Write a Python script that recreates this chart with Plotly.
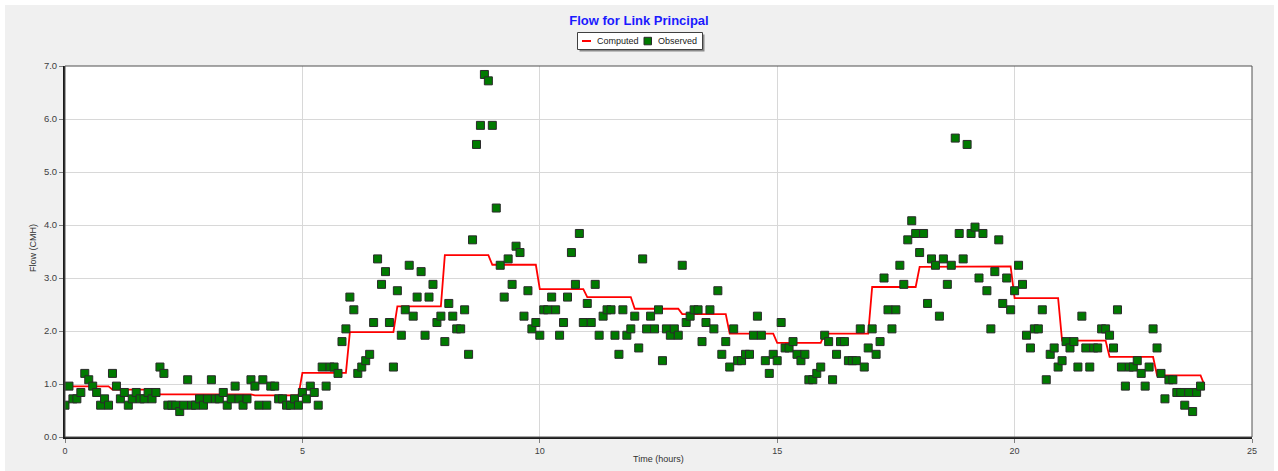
import plotly.graph_objects as go

# ---------------- data ----------------
# Observed flow, one reading every 5 minutes from 0:00 to 23:55
obs_minutes_step = 5
observed = [
    0.6, 0.96, 0.72, 0.72, 0.84, 1.2, 1.08, 0.96, 0.84, 0.6,
    0.72, 0.6, 1.2, 0.96, 0.72, 0.84, 0.6, 0.72, 0.84, 0.72,
    0.72, 0.84, 0.72, 0.84, 1.32, 1.2, 0.6, 0.6, 0.6, 0.48,
    0.6, 1.08, 0.6, 0.6, 0.72, 0.6, 0.72, 1.08, 0.72, 0.72,
    0.84, 0.6, 0.72, 0.96, 0.72, 0.6, 0.72, 1.08, 0.96, 0.6,
    1.08, 0.6, 0.96, 0.96, 0.72, 0.72, 0.6, 0.6, 0.72, 0.6,
    0.84, 0.72, 0.96, 0.84, 0.6, 1.32, 0.96, 1.32, 1.32, 1.2,
    1.8, 2.04, 2.64, 2.4, 1.2, 1.32, 1.44, 1.56, 2.16, 3.36,
    2.88, 3.12, 2.16, 1.32, 2.76, 1.92, 2.4, 3.24, 2.28, 2.64,
    3.12, 1.92, 2.64, 2.88, 2.16, 2.28, 1.8, 2.52, 2.28, 2.04,
    2.04, 2.4, 1.56, 3.72, 5.52, 5.88, 6.84, 6.72, 5.88, 4.32,
    3.24, 2.64, 3.36, 2.88, 3.6, 3.48, 2.28, 2.76, 2.04, 2.16,
    1.92, 2.4, 2.4, 2.64, 2.4, 1.92, 2.16, 2.64, 3.48, 2.88,
    3.84, 2.16, 2.52, 2.16, 2.88, 1.92, 2.28, 2.4, 2.4, 1.92,
    1.56, 2.4, 1.92, 2.04, 2.28, 1.68, 3.36, 2.04, 2.28, 2.04,
    2.4, 1.44, 2.04, 1.92, 2.04, 1.92, 3.24, 2.16, 2.28, 2.4,
    2.4, 1.8, 2.16, 2.4, 2.04, 2.76, 1.56, 1.8, 1.32, 2.04,
    1.44, 1.44, 1.56, 1.56, 1.92, 2.28, 1.92, 1.44, 1.2, 1.56,
    1.44, 2.16, 1.68, 1.68, 1.8, 1.56, 1.44, 1.56, 1.08, 1.08,
    1.2, 1.32, 1.92, 1.8, 1.08, 1.56, 1.8, 1.8, 1.44, 1.44,
    1.44, 2.04, 1.32, 1.68, 2.04, 1.56, 1.8, 3.0, 2.4, 2.04,
    2.4, 3.24, 2.88, 3.72, 4.08, 3.84, 3.48, 3.84, 2.52, 3.36,
    3.24, 2.28, 3.36, 2.88, 3.24, 5.64, 3.84, 3.36, 5.52, 3.84,
    3.96, 3.0, 3.84, 2.76, 2.04, 3.12, 3.72, 2.52, 3.0, 2.4,
    2.76, 3.24, 2.88, 1.92, 1.68, 2.04, 2.04, 2.4, 1.08, 1.56,
    1.68, 1.32, 1.44, 1.8, 1.68, 1.8, 1.32, 2.28, 1.68, 1.32,
    1.68, 1.68, 2.04, 2.04, 1.92, 1.68, 2.4, 1.32, 0.96, 1.32,
    1.32, 1.44, 1.2, 0.96, 1.32, 2.04, 1.68, 1.2, 0.72, 1.08,
    1.08, 0.84, 0.84, 0.6, 0.84, 0.48, 0.84, 0.96,
]
observed_hours = [i * obs_minutes_step / 60 for i in range(len(observed))]

# Computed flow: one value per hour (hour 0 .. hour 24)
computed_hour = list(range(25))
computed_value = [0.957, 0.894, 0.805, 0.805, 0.787, 1.21, 1.98, 2.466, 3.43, 3.25,
                  2.79, 2.64, 2.42, 2.32, 1.95, 1.775, 1.95, 2.83, 3.21, 3.22,
                  2.62, 1.82, 1.51, 1.164, 0.975]

x_ticks = [0, 5, 10, 15, 20, 25]
y_ticks = [0, 1, 2, 3, 4, 5, 6, 7]
y_tick_text = ["0.0", "1.0", "2.0", "3.0", "4.0", "5.0", "6.0", "7.0"]

# Computed series is reported every 5 minutes, constant within each hour
comp_x, comp_y = [], []
for h, v in zip(computed_hour, computed_value):
    comp_x.append(h)
    comp_y.append(v)
    if h < computed_hour[-1]:
        comp_x.append(h + 11 / 12)
        comp_y.append(v)

FONT = "Liberation Sans, Arial, sans-serif"
W, H = 1278, 471
ML, MR, MT, MB = 65, 26, 66, 34
PW, PH = W - ML - MR, H - MT - MB


def px(x):
    return (x - ML) / PW


def py(y):
    return (H - MB - y) / PH


fig = go.Figure()
fig.add_trace(go.Scatter(
    x=comp_x, y=comp_y, mode="lines", name="Computed",
    line=dict(color="#FF0000", width=1.8), showlegend=False,
))
fig.add_trace(go.Scatter(
    x=observed_hours, y=observed, mode="markers", name="Observed",
    marker=dict(symbol="square", size=8, color="#007A00",
                line=dict(color="#2A2A2A", width=1)),
    showlegend=False,
))

shapes = [
    # white outer frame of the window
    dict(type="rect", xref="paper", yref="paper", x0=px(-2), x1=px(5),
         y0=py(H + 2), y1=py(-2), fillcolor="white", line=dict(width=0)),
    dict(type="rect", xref="paper", yref="paper", x0=px(-2), x1=px(W + 2),
         y0=py(5), y1=py(-2), fillcolor="white", line=dict(width=0)),
    dict(type="rect", xref="paper", yref="paper", x0=px(1274), x1=px(W + 2),
         y0=py(H + 2), y1=py(-2), fillcolor="white", line=dict(width=0)),
    # plot frame (thin top/right)
    dict(type="rect", xref="paper", yref="paper", x0=0, x1=1, y0=0, y1=1,
         line=dict(color="#505050", width=1), layer="above"),
    # legend shadow + box
    dict(type="rect", xref="paper", yref="paper", x0=px(579.5), x1=px(704.5),
         y0=py(51.5), y1=py(34.5), fillcolor="#8A8A8A", line=dict(width=0)),
    dict(type="rect", xref="paper", yref="paper", x0=px(577.5), x1=px(702.5),
         y0=py(49.5), y1=py(32.5), fillcolor="white",
         line=dict(color="#404040", width=1)),
    dict(type="line", xref="paper", yref="paper", x0=px(582), x1=px(591),
         y0=py(41), y1=py(41), line=dict(color="#FF0000", width=2)),
    dict(type="rect", xref="paper", yref="paper", x0=px(644), x1=px(651.5),
         y0=py(44.8), y1=py(37.3), fillcolor="#007A00",
         line=dict(color="#2A2A2A", width=1)),
]

annotations = [
    dict(text="Computed", xref="paper", yref="paper", x=px(595), y=py(41),
         xanchor="left", yanchor="middle", showarrow=False,
         font=dict(family=FONT, size=9, color="#202020")),
    dict(text="Observed", xref="paper", yref="paper", x=px(656), y=py(41),
         xanchor="left", yanchor="middle", showarrow=False,
         font=dict(family=FONT, size=9, color="#202020")),
    dict(text="Time (hours)", xref="paper", yref="paper", x=px(658.5), y=py(459),
         xanchor="center", yanchor="middle", showarrow=False,
         font=dict(family=FONT, size=9, color="#303030")),
    dict(text="Flow (CMH)", xref="paper", yref="paper", x=px(33), y=py(248),
         xanchor="center", yanchor="middle", showarrow=False, textangle=-90,
         font=dict(family=FONT, size=9, color="#303030")),
]

fig.update_layout(
    width=W, height=H,
    margin=dict(l=ML, r=MR, t=MT, b=MB),
    paper_bgcolor="#F0F0F0", plot_bgcolor="white",
    title=dict(text="<b>Flow for Link Principal</b>", x=0.5, xref="container",
               xanchor="center", y=1 - 20 / H, yref="container", yanchor="middle",
               font=dict(family=FONT, size=13, color="#1A1AFF")),
    showlegend=False,
    shapes=shapes, annotations=annotations,
    xaxis=dict(range=[0, 25], tickvals=x_ticks, ticktext=[str(t) for t in x_ticks],
               showgrid=True, gridcolor="#D8D8D8", gridwidth=1, zeroline=False,
               showline=True, linecolor="#1A1A1A", linewidth=2,
               ticks="outside", ticklen=4, tickcolor="#808080",
               tickfont=dict(family=FONT, size=9, color="#404040")),
    yaxis=dict(range=[0, 7], tickvals=y_ticks, ticktext=y_tick_text,
               showgrid=True, gridcolor="#D8D8D8", gridwidth=1, zeroline=False,
               showline=True, linecolor="#1A1A1A", linewidth=2,
               ticks="outside", ticklen=4, tickcolor="#808080",
               tickfont=dict(family=FONT, size=9.5, color="#404040")),
)

fig.write_html("out.html")
